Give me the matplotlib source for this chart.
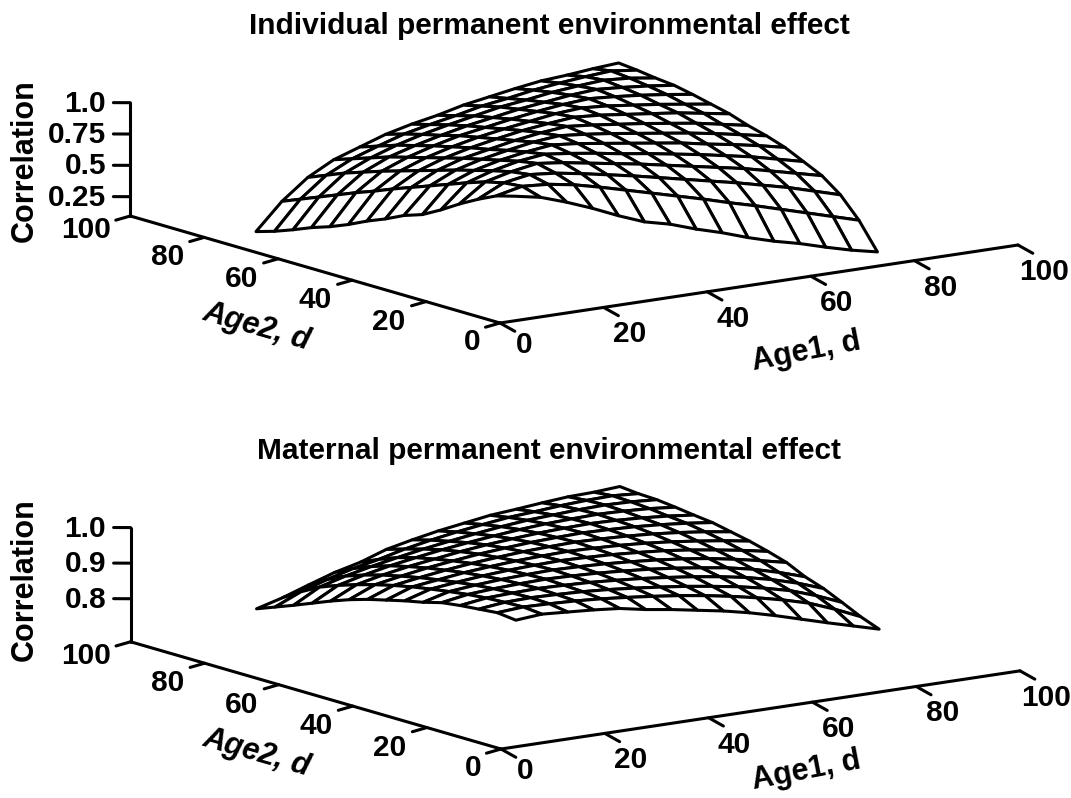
import numpy as np
import matplotlib
matplotlib.use("Agg")
import matplotlib.pyplot as plt
from matplotlib.transforms import IdentityTransform
from mpl_toolkits.mplot3d import proj3d

W, H = 1071, 798
plt.rcParams['font.family'] = ['Liberation Sans', 'DejaVu Sans']
plt.rcParams['font.weight'] = 'bold'

AGES = [10, 15, 20, 25, 30, 35, 40, 45, 50, 55, 60, 65, 70, 75, 80]
AXIS_TICKS = [0, 20, 40, 60, 80, 100]

# upper triangles of the symmetric correlation tables (row i holds columns i..14)
INDIVIDUAL = [
    [.96, .92, .85, .77, .68, .60, .55, .48, .42, .35, .29, .24, .18, .125, .08],
    [.965, .95, .915, .865, .81, .755, .70, .645, .585, .53, .47, .41, .35, .29],
    [.985, .965, .93, .89, .85, .805, .76, .715, .67, .62, .57, .51, .45],
    [1.0, .975, .94, .905, .87, .83, .79, .75, .71, .66, .61, .56],
    [1.0, .975, .945, .91, .88, .845, .81, .77, .73, .68, .63],
    [1.0, .98, .95, .92, .89, .86, .82, .785, .745, .70],
    [1.0, .98, .955, .925, .895, .865, .83, .79, .75],
    [1.0, .98, .955, .93, .90, .87, .83, .79],
    [1.0, .985, .96, .935, .91, .875, .84],
    [1.0, .985, .96, .935, .905, .875],
    [1.0, .985, .965, .94, .91],
    [1.0, .985, .965, .94],
    [1.0, .985, .955],
    [1.0, .975],
    [.99],
]
MATERNAL = [
    [.989, .995, .99, .985, .978, .964, .953, .94, .927, .911, .892, .871, .85, .83, .81],
    [1.0, .998, .995, .99, .983, .975, .966, .955, .942, .927, .91, .89, .862, .83],
    [1.0, .998, .995, .99, .983, .975, .966, .955, .943, .928, .91, .885, .855],
    [1.0, .998, .995, .99, .984, .976, .967, .956, .943, .926, .905, .879],
    [1.0, .998, .995, .99, .984, .976, .966, .955, .94, .92, .897],
    [1.0, .998, .995, .99, .984, .976, .966, .953, .938, .922],
    [1.0, .998, .995, .99, .984, .975, .964, .952, .938],
    [1.0, .998, .995, .99, .983, .974, .964, .952],
    [1.0, .998, .995, .99, .983, .974, .963],
    [1.0, .998, .995, .99, .983, .974],
    [1.0, .998, .994, .988, .98],
    [1.0, .998, .994, .987],
    [1.0, .998, .993],
    [1.0, .995],
    [1.0],
]
TOP_Z_TICKS = [0.25, 0.5, 0.75, 1.0]
TOP_Z_LABELS = ['0.25', '0.5', '0.75', '1.0']
BOT_Z_TICKS = [0.8, 0.9, 1.0]
BOT_Z_LABELS = ['0.8', '0.9', '1.0']

LW = 2.2
FS = 21.5


def full(tri):
    n = len(tri)
    m = np.zeros((n, n))
    for i, row in enumerate(tri):
        for k, v in enumerate(row):
            m[i, i + k] = m[i + k, i] = v
    return m


fig = plt.figure(figsize=(W / 100, H / 100), dpi=100, facecolor='white')


def px(x, y, s, **kw):
    kw.setdefault('ha', 'center')
    kw.setdefault('va', 'center')
    kw.setdefault('fontsize', FS)
    fig.text(x, H - y, s, transform=IdentityTransform(), **kw)


def panel(tri, zlim, zticks, zlabels, origin, xend, title, title_y, corr_y, age1_xy, age2_xy, zs):
    ax = fig.add_axes([0.1, 0.1, 0.5, 0.5 * W / H], projection='3d', proj_type='ortho')
    ax.set_axis_off()
    ax.patch.set_alpha(0)
    ax.set_xlim(0, 100)
    ax.set_ylim(0, 100)
    ax.set_zlim(*zlim)
    ax.view_init(elev=12.05, azim=234.2)
    ax.set_box_aspect((638.6, 632.0, zs * (zlim[1] - zlim[0]) / np.cos(np.radians(12.05))))

    def to_px(x, y, z):
        u, v, _ = proj3d.proj_transform(x, y, z, ax.get_proj())
        d = ax.transData.transform((u, v))
        return np.array([d[0], H - d[1]])

    # size and place the axes so that the 3D box lands on the pixels wanted
    for _ in range(3):
        ax.apply_aspect()
        a, b = to_px(0, 0, zlim[0]), to_px(100, 0, zlim[0])
        scale = (xend[0] - origin[0]) / (b[0] - a[0])
        p = ax.get_position(original=True)
        s = p.width * scale
        ax.set_position([p.x0, p.y0, s, s * W / H])
        ax.apply_aspect()
        a = to_px(0, 0, zlim[0])
        p = ax.get_position(original=True)
        ax.set_position([p.x0 + (origin[0] - a[0]) / W, p.y0 - (origin[1] - a[1]) / H, p.width, p.height])
    ax.apply_aspect()

    X, Y = np.meshgrid(AGES, AGES)
    surf = ax.plot_surface(X, Y, full(tri), rstride=1, cstride=1, color='white',
                           edgecolor='black', linewidth=LW, shade=False, antialiased=True)
    surf.set_clip_on(False)

    dz = 1.0 / zs  # one pixel in z units
    line = dict(color='black', lw=LW, solid_capstyle='round', clip_on=False)
    z0 = zlim[0]
    ax.plot([0, 100], [0, 0], [z0, z0], **line)
    ax.plot([0, 0], [0, 100], [z0, z0], **line)
    ax.plot([0, 0], [100, 100], [z0, zlim[1]], **line)
    for t in AXIS_TICKS:
        ax.plot([t, t], [0, -4], [z0, z0 - 4 * dz], **line)
        ax.plot([0, -2.8], [t, t], [z0, z0 - 2 * dz], **line)
        p1 = to_px(t, 0, z0)
        off = (24, 22) if t == 0 else (26, 27)
        px(p1[0] + off[0], p1[1] + off[1], str(t))
        p2 = to_px(0, t, z0)
        off = {0: (-28, 19), 100: (-44, 14)}.get(t, (-37, 20))
        px(p2[0] + off[0], p2[1] + off[1], str(t))
    for t, lab in zip(zticks, zlabels):
        ax.plot([0, -2.12], [100, 101.6], [t, t], **line)
        p3 = to_px(0, 100, t)
        px(106, p3[1] + 1, lab, ha='right')

    px(549, title_y, title, fontsize=FS)
    px(25, corr_y, 'Correlation', rotation=90, fontsize=22)
    px(age1_xy[0], age1_xy[1], 'Age1, d', rotation=11, rotation_mode='anchor', fontsize=22)
    px(age2_xy[0], age2_xy[1], 'Age2, d', rotation=-16, rotation_mode='anchor', style='italic', fontsize=22)


panel(INDIVIDUAL, (0.096, 1.0), TOP_Z_TICKS, TOP_Z_LABELS, (500, 323), (1018, 245),
      'Individual permanent environmental effect', 26, 161, (806, 352), (257, 327), 125.3)
panel(MATERNAL, (0.679, 1.0), BOT_Z_TICKS, BOT_Z_LABELS, (501, 749), (1020, 674),
      'Maternal permanent environmental effect', 451, 580, (806, 771), (257, 753), 355.0)

fig.savefig('out.png', dpi=100, facecolor='white')
